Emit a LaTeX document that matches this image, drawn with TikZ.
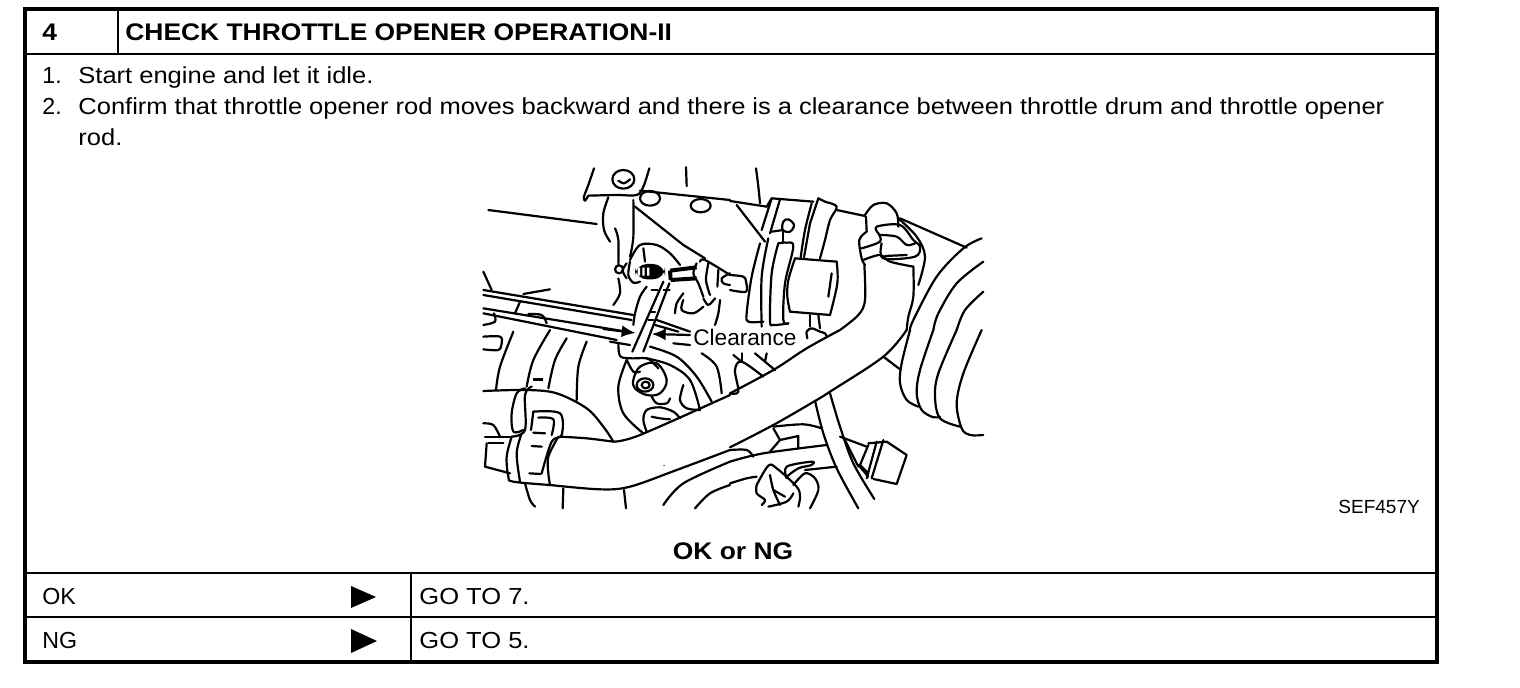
\documentclass[tikz,border=0pt]{standalone}
\usepackage{fontspec}
\setmainfont{Liberation Sans}
\newfontfamily\widefont[FakeStretch=1.1]{Liberation Sans}
\usetikzlibrary{arrows.meta}
\newcommand{\skt}[1]{\draw[sketch] plot[smooth,tension=.55] coordinates {#1};}
\newcommand{\sk}[1]{\draw[sketch] plot coordinates {#1};}
\tikzset{
  frameline/.style={line width=1.7pt},
  rowline/.style={line width=1.1pt},
  sketch/.style={line width=1.1pt,line join=round,line cap=round},
  txt/.style={anchor=base west,inner sep=0pt,font=\fontsize{11.6}{14}\selectfont\widefont},
  boldtxt/.style={txt,font=\fontsize{12}{14}\selectfont\widefont\bfseries},
  zoomed/.style={x=.16667pt,y=-.16667pt}
}
\begin{document}
\begin{tikzpicture}[x=.5pt,y=-.5pt]
  \useasboundingbox (0,0) rectangle (1520,688);
  % table
  \draw[frameline] (25,9) rectangle (1437,662);
  \draw[rowline] (25,54) -- (1437,54);
  \draw[rowline] (118,9) -- (118,54);
  \draw[rowline] (25,573) -- (1437,573);
  \draw[rowline] (25,617) -- (1437,617);
  \draw[rowline] (411,573) -- (411,662);
  % texts
  \node[boldtxt] (stepno) at (42,41) {4};
  \node[boldtxt] (title) at (125,41) {CHECK THROTTLE OPENER OPERATION-II};
  \node[txt,font=\fontsize{11.6}{14}\selectfont] (numa) at (42,84) {1.};
  \node[txt] (linea) at (78,84) {Start engine and let it idle.};
  \node[txt,font=\fontsize{11.6}{14}\selectfont] (numb) at (42,115) {2.};
  \node[txt] (lineb) at (78,115) {\makebox[653pt][s]{Confirm that throttle opener rod moves backward and there is a clearance between throttle drum and throttle opener}};
  \node[txt] (linec) at (78,146) {rod.};
  \node[txt,font=\fontsize{11.3}{14}\selectfont] (clear) at (693,346) {Clearance};
  \node[txt,font=\fontsize{9.5}{11}\selectfont] (code) at (1338,514) {SEF457Y};
  \node[boldtxt,anchor=base] (okng) at (733,560) {OK or NG};
  \node[txt,font=\fontsize{11.6}{14}\selectfont] (ok) at (42,605) {OK};
  \node[txt,font=\fontsize{11.6}{14}\selectfont] (ng) at (42,649) {NG};
  \node[txt] (gosev) at (419,605) {GO TO 7.};
  \node[txt] (gofiv) at (419,649) {GO TO 5.};
  \fill (351,586) -- (376,597) -- (351,608) -- cycle;
  \fill (351,629) -- (377,641) -- (351,653) -- cycle;
  % upper left of the sketch
  \begin{scope}[shift={(470,150)},zoomed]
    \skt{(372,55) (355,105) (342,140) (345,152) (355,137)}
    \skt{(355,137) (440,135) (500,135) (520,110) (538,55)}
    \draw[sketch] (460,88) ellipse (33 and 28);
    \skt{(445,92) (462,100) (480,88)}
    \sk{(648,52) (650,108)}
    \sk{(510,122) (780,150)}
    \draw[sketch] (540,145) ellipse (30 and 22);
    \draw[sketch] (692,167) ellipse (30 and 20);
    \sk{(55,180) (380,222)}
    \skt{(415,142) (400,190) (402,240) (420,275)}
    \skt{(435,235) (445,270) (445,345)}
    \skt{(490,150) (490,260) (480,320)}
    \sk{(495,170) (640,285) (705,325)}
    \skt{(480,330) (510,285) (560,285) (600,310) (630,345)}
    \sk{(520,295) (525,335)}
    \draw[sketch] (447,358) circle (12);
    \skt{(470,340) (458,362) (470,385)}
    \skt{(480,335) (475,375) (490,398) (510,395)}
    \fill[rounded corners=6] (495,342) rectangle (585,388);
    \fill[white] (503,353) rectangle (510,377) (517,353) rectangle (524,377) (531,353) rectangle (538,377);
    \skt{(445,385) (450,430) (430,465)}
    \draw[line width=2pt] (600,362) -- (680,352) (602,390) -- (680,385) (600,362) -- (602,390);
    \skt{(680,340) (670,370) (685,400) (700,440)}
    \skt{(715,340) (708,390) (720,435)}
    \skt{(745,360) (742,410)}
    \skt{(780,370) (755,385) (760,400) (780,405)}
    \skt{(690,335) (705,330) (780,375)}
    \skt{(700,445) (715,465) (735,445)}
    \skt{(750,450) (745,490) (735,525)}
    \skt{(530,410) (510,440) (495,490) (490,525)}
    \sk{(580,395) (487,605)}
    \sk{(598,400) (520,605)}
    \draw[sketch,dashed] (545,420) -- (605,420) (540,487) -- (555,487) (535,510) -- (550,510);
    \skt{(640,430) (620,460) (615,490)}
    \skt{(640,450) (635,480) (670,490) (700,470)}
    \sk{(40,420) (490,495)}
    \sk{(40,435) (485,510)}
    \sk{(40,475) (470,545)}
    \sk{(40,490) (440,570)}
    \sk{(40,365) (65,420)}
    \sk{(240,418) (160,432)}
    \sk{(150,455) (135,490)}
    \skt{(175,492) (215,495) (230,520)}
    \skt{(40,525) (75,515) (72,490)}
    \sk{(560,510) (660,545)}
    \sk{(555,525) (625,545)}
    % the two clearance arrows
    \coordinate (leftfrom) at (400,537);
    \coordinate (lefttip) at (497,549);
    \coordinate (rightfrom) at (660,555);
    \coordinate (righttip) at (545,552);
    \draw[sketch,-{Latex[length=7pt,width=6pt]}] (leftfrom) -- (lefttip);
    \draw[sketch,-{Latex[length=7pt,width=6pt]}] (rightfrom) -- (righttip);
  \end{scope}
  % upper right of the sketch
  \begin{scope}[shift={(730,150)},zoomed]
    \skt{(78,55) (85,110) (90,160)}
    \sk{(0,153) (110,170)}
    \sk{(110,170) (125,145) (250,155)}
    \sk{(20,165) (105,275)}
    \sk{(125,145) (95,240)}
    \sk{(150,148) (120,250)}
    \skt{(90,280) (65,380) (50,490) (55,515) (100,515)}
    \skt{(115,265) (95,380) (95,530)}
    \skt{(145,280) (125,370) (120,510) (130,525) (175,520)}
    \skt{(145,280) (170,278) (190,290) (165,400) (160,510) (175,520)}
    \draw[sketch,smooth cycle,tension=.6] plot coordinates {(160,215) (158,240) (180,245) (192,225) (175,208)};
    \sk{(160,240) (160,278)}
    \sk{(125,245) (160,240)}
    \skt{(245,160) (225,240) (212,322)}
    \skt{(265,145) (285,155) (320,170) (300,210) (285,270) (270,325)}
    \sk{(265,145) (240,220) (222,322)}
    \sk{(320,180) (405,198)}
    \sk{(195,325) (320,335)}
    \skt{(320,335) (322,400) (300,495)}
    \skt{(195,325) (175,390) (172,440) (180,485)}
    \sk{(180,485) (300,495)}
    \sk{(305,370) (295,440)}
    \skt{(405,195) (430,165) (470,160) (500,190) (505,230)}
    \sk{(408,200) (410,245)}
    \skt{(410,245) (388,270) (395,325) (405,345)}
    \skt{(395,295) (450,275) (445,250)}
    \skt{(445,250) (440,230) (510,225) (550,270) (570,290) (555,320) (460,325) (455,280)}
    \skt{(450,255) (500,260) (530,285) (555,280)}
    \sk{(465,318) (530,315)}
    \skt{(400,330) (450,315) (480,335) (550,350)}
    \skt{(505,205) (560,260) (585,320) (565,405)}
    \sk{(510,205) (710,293)}
    \skt{(403,345) (405,450) (385,495) (330,540)}
    \skt{(550,350) (550,440) (535,500) (530,540)}
    \skt{(755,265) (700,295) (620,380) (550,510) (540,540)}
    \skt{(760,335) (680,400) (625,490) (610,540)}
    \skt{(760,425) (705,480) (680,540)}
    \skt{(0,375) (40,380) (48,395) (48,425) (0,420)}
    \sk{(240,495) (240,530)}
    \sk{(265,495) (270,535)}
    \skt{(232,565) (230,545) (245,535) (270,545) (285,550) (290,560)}
  \end{scope}
  % lower left of the sketch
  \begin{scope}[shift={(470,330)},zoomed]
    \sk{(420,35) (480,45)}
    \sk{(610,40) (660,45)}
    \skt{(445,40) (450,78) (480,85) (530,85) (550,100) (565,115)}
    \skt{(470,90) (490,125) (510,125)}
    \draw[sketch,smooth cycle,tension=.6] plot coordinates {(490,150) (510,110) (560,100) (590,150) (570,190) (530,195) (495,175)};
    \draw[sketch] (525,165) ellipse (25 and 20);
    \draw[sketch] (527,165) ellipse (12 and 10);
    \skt{(470,90) (445,170) (460,250) (520,310)}
    \skt{(545,200) (560,220) (590,220) (600,205)}
    \skt{(530,85) (600,105) (660,150) (690,240)}
    \skt{(540,50) (620,80) (680,140) (725,215)}
    \skt{(695,70) (740,110) (755,190)}
    \skt{(640,165) (630,210) (650,235) (690,240)}
    \skt{(530,305) (520,270) (530,240) (570,232) (610,245) (630,265)}
    \skt{(545,260) (570,265) (600,268)}
    \skt{(430,335) (510,315) (780,195)}
    \skt{(240,465) (390,478) (480,470) (620,420) (780,360)}
    \skt{(130,5) (90,110) (78,180)}
    \skt{(240,0) (190,90) (170,170)}
    \skt{(290,25) (255,90) (235,175)}
    \skt{(350,35) (325,110) (320,210)}
    \draw[line width=1.5pt] (190,148) -- (220,148);
    \skt{(40,183) (170,180) (260,190) (350,235) (400,290) (430,335)}
    \skt{(40,20) (90,20) (95,40) (85,60) (40,58)}
    \skt{(165,175) (140,190) (125,250) (130,305) (160,300)}
    \skt{(185,170) (165,195) (165,300) (125,320)}
    \skt{(190,245) (270,250) (275,315) (245,335) (215,430)}
    \sk{(190,245) (183,300)}
    \skt{(205,263) (250,268) (245,315)}
    \sk{(190,308) (225,310)}
    \sk{(185,348) (215,350)}
    \sk{(178,430) (212,432)}
    \skt{(125,320) (110,380) (115,440) (130,455) (240,465)}
    \skt{(155,310) (140,370) (150,455)}
    \skt{(265,320) (235,380) (235,430) (240,465)}
    \skt{(270,320) (350,325) (430,335)}
    \sk{(45,322) (120,322)}
    \sk{(50,340) (45,410) (120,430)}
    \sk{(55,340) (100,340)}
    \skt{(40,280) (70,285) (90,320)}
    \skt{(165,460) (180,510) (195,530)}
    \skt{(280,475) (278,535)}
    \skt{(462,480) (468,535)}
    \skt{(580,525) (640,460) (780,395)}
    \skt{(675,535) (720,490) (780,465)}
    \fill (582,407) circle (2);
  \end{scope}
  % lower right of the sketch
  \begin{scope}[shift={(730,330)},zoomed]
    \skt{(0,190) (130,120) (230,55) (330,0)}
    \skt{(0,352) (130,285) (260,210) (300,185) (460,80) (530,0)}
    \skt{(540,0) (515,100) (510,160) (530,210) (565,230)}
    \skt{(610,0) (570,120) (560,190) (575,240) (610,262) (630,260)}
    \skt{(680,0) (625,130) (615,200) (630,265) (690,290)}
    \skt{(755,0) (700,130) (680,220) (695,295) (720,315) (760,315)}
    \sk{(460,80) (510,118)}
    \skt{(255,212) (280,310) (320,415) (385,535)}
    \skt{(300,190) (330,290) (370,400) (433,507)}
    \skt{(130,290) (220,283) (275,295)}
    \sk{(330,320) (410,350)}
    \sk{(345,330) (385,410)}
    \skt{(0,395) (100,370) (290,345)}
    \skt{(0,360) (50,360) (70,380)}
    \sk{(120,365) (150,330) (205,318) (205,355)}
    \sk{(150,330) (130,295)}
    \sk{(415,345) (390,405) (415,430)}
    \sk{(440,335) (410,445)}
    \sk{(460,330) (425,445)}
    \sk{(415,340) (470,335) (530,375) (500,462) (430,447)}
    \sk{(385,405) (415,440)}
    \skt{(0,460) (50,445) (80,440)}
    \skt{(80,465) (115,407) (140,415) (200,470) (210,500) (205,530)}
    \skt{(80,465) (80,490) (105,510) (95,525)}
    \skt{(115,530) (170,515) (190,490)}
    \skt{(120,435) (130,480) (150,525)}
    \sk{(130,480) (165,500)}
    \skt{(170,445) (170,410) (245,395) (245,405) (205,415) (170,440)}
    \sk{(225,420) (320,410)}
    \skt{(190,465) (225,430) (255,445) (265,480) (240,535)}
    \skt{(0,190) (25,185) (15,120) (35,95) (100,140)}
    \sk{(10,75) (35,95)}
    \sk{(35,70) (35,95)}
    \sk{(75,70) (135,120)}
    \sk{(110,70) (105,95)}
  \end{scope}
\end{tikzpicture}
\end{document}
